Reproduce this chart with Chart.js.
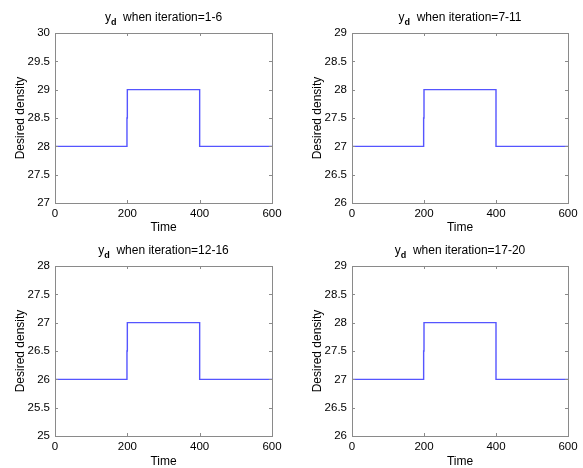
<!DOCTYPE html>
<html>
<head>
<meta charset="utf-8">
<script src="https://cdn.jsdelivr.net/npm/chart.js@4.4.1/dist/chart.umd.min.js"></script>
<style>
    html, body { margin: 0; padding: 0; background: #fff; }
    #fig { position: relative; width: 583px; height: 468px; overflow: hidden; }
    .cell { position: absolute; }
</style>
</head>
<body>
<div id="fig">
    <div class="cell" style="left:0;top:0;width:290px;height:234px"><canvas id="c1"></canvas></div>
    <div class="cell" style="left:290px;top:0;width:293px;height:234px"><canvas id="c2"></canvas></div>
    <div class="cell" style="left:0;top:234px;width:290px;height:234px"><canvas id="c3"></canvas></div>
    <div class="cell" style="left:290px;top:234px;width:293px;height:234px"><canvas id="c4"></canvas></div>
</div>
<script>
// Step profile of the desired density y_d
const stepTimes = [0, 199, 199, 200, 200, 400, 400, 600];
const ydIter1to6 = [28, 28, 28.5, 28.5, 29, 29, 28, 28];
const ydIter7to11 = [27, 27, 27.5, 27.5, 28, 28, 27, 27];
const ydIter12to16 = [26, 26, 26.5, 26.5, 27, 27, 26, 26];
const ydIter17to20 = [27, 27, 27.5, 27.5, 28, 28, 27, 27];
const iterationLabels = ['1-6', '7-11', '12-16', '17-20'];
const yMins = [27, 26, 25, 26];
const yMaxs = [30, 29, 28, 29];
const xTicks = [0, 200, 400, 600];

const FONT = "'Liberation Sans', Arial, Helvetica, sans-serif";
const AXIS_GRAY = '#8a8a8a';
const PLOT_H = 170;

// MATLAB-like box with inward ticks on all four sides, plus the y_d title
const boxPlugin = {
    id: 'matlabBox',
    afterDraw(chart, args, opts) {
        const { ctx, chartArea: a, scales } = chart;
        ctx.save();
        ctx.strokeStyle = AXIS_GRAY;
        ctx.lineWidth = 1;
        ctx.strokeRect(Math.round(a.left) + 0.5, Math.round(a.top) + 0.5,
            Math.round(a.right - a.left), Math.round(a.bottom - a.top));
        const tl = 3;
        ctx.beginPath();
        scales.x.ticks.forEach(t => {
            const px = Math.round(scales.x.getPixelForValue(t.value)) + 0.5;
            ctx.moveTo(px, a.bottom); ctx.lineTo(px, a.bottom - tl);
            ctx.moveTo(px, a.top); ctx.lineTo(px, a.top + tl);
        });
        scales.y.ticks.forEach(t => {
            const py = Math.round(scales.y.getPixelForValue(t.value)) + 0.5;
            ctx.moveTo(a.left, py); ctx.lineTo(a.left + tl, py);
            ctx.moveTo(a.right, py); ctx.lineTo(a.right - tl, py);
        });
        ctx.stroke();

        // title: y with subscript d
        const main = '12px ' + FONT;
        const sub = 'bold 9px ' + FONT;
        const rest = '  when iteration=' + opts.label;
        ctx.fillStyle = '#000';
        ctx.font = main;
        const wY = ctx.measureText('y').width;
        const wRest = ctx.measureText(rest).width;
        ctx.font = sub;
        const wD = ctx.measureText('d').width;
        const total = wY + wD + wRest;
        let x = (a.left + a.right) / 2 - total / 2;
        const base = a.top - 12.5;
        ctx.textBaseline = 'alphabetic';
        ctx.textAlign = 'left';
        ctx.font = main;
        ctx.fillText('y', x, base);
        x += wY;
        ctx.font = sub;
        ctx.fillText('d', x, base + 4.5);
        x += wD;
        ctx.font = main;
        ctx.fillText(rest, x, base);
        ctx.restore();
    }
};

function makeChart(id, values, idx, yAxisWidth, yTitlePad, rightPad, topPad) {
    const points = stepTimes.map((t, i) => ({ x: t, y: values[i] }));
    return new Chart(document.getElementById(id), {
        type: 'line',
        data: {
            datasets: [{
                data: points,
                borderColor: 'rgb(85, 85, 255)',
                borderWidth: 1.4,
                pointRadius: 0,
                fill: false,
                tension: 0
            }]
        },
        options: {
            responsive: true,
            maintainAspectRatio: false,
            animation: false,
            events: [],
            layout: { padding: { top: topPad, right: rightPad, left: 0, bottom: 0 } },
            plugins: {
                legend: { display: false },
                tooltip: { enabled: false },
                matlabBox: { label: iterationLabels[idx] }
            },
            scales: {
                x: {
                    type: 'linear',
                    min: 0,
                    max: 600,
                    afterBuildTicks: s => { s.ticks = xTicks.map(v => ({ value: v })); },
                    grid: { display: false, drawTicks: false },
                    border: { display: false },
                    ticks: { color: '#000', padding: 4, maxRotation: 0, font: { family: FONT, size: 11.5 } },
                    title: { display: true, text: 'Time', color: '#000', padding: { top: 0, bottom: 0 }, font: { family: FONT, size: 12, lineHeight: 1.05 } },
                    afterFit: s => { s.height = 234 - topPad - PLOT_H; }
                },
                y: {
                    min: yMins[idx],
                    max: yMaxs[idx],
                    grid: { display: false, drawTicks: false },
                    border: { display: false },
                    ticks: {
                        stepSize: 0.5, color: '#000', padding: 5,
                        font: { family: FONT, size: 11.5 },
                        callback: v => String(Number(v.toFixed(1)))
                    },
                    title: { display: true, text: 'Desired density', color: '#000', padding: { top: yTitlePad, bottom: 0 }, font: { family: FONT, size: 12 } },
                    afterFit: s => { s.width = yAxisWidth; }
                }
            }
        },
        plugins: [boxPlugin]
    });
}

makeChart('c1', ydIter1to6, 0, 55, 13, 18, 33);
makeChart('c2', ydIter7to11, 1, 62, 20, 15, 33);
makeChart('c3', ydIter12to16, 2, 55, 13, 18, 32);
makeChart('c4', ydIter17to20, 3, 62, 20, 15, 32);
</script>
</body>
</html>
